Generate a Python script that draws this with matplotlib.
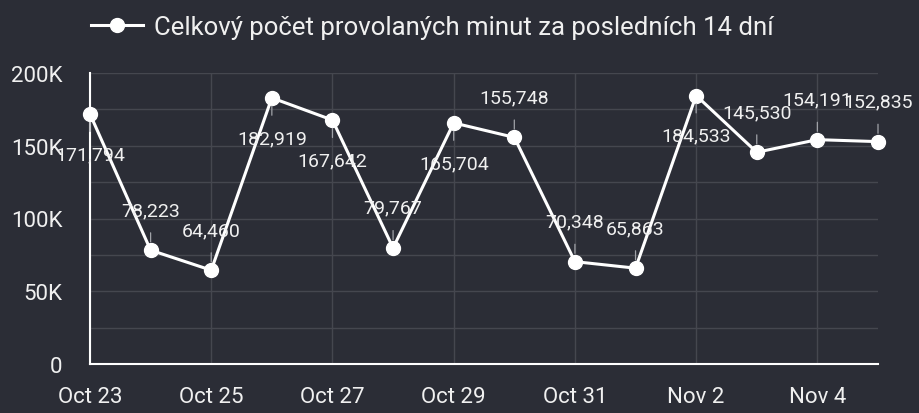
import datetime as dt

import matplotlib
matplotlib.use("Agg")
import matplotlib.dates as mdates
import matplotlib.pyplot as plt
from matplotlib import font_manager
from matplotlib.ticker import FuncFormatter, MultipleLocator

# data
dates = [dt.date(2023, 10, 23) + dt.timedelta(days=i) for i in range(14)]
minutes = [171794, 78223, 64460, 182919, 167642, 79767, 165704,
           155748, 70348, 65863, 184533, 145530, 154191, 152835]
label_side = ["below", "above", "above", "below", "below", "above", "below",
              "above", "above", "above", "below", "above", "above", "above"]
series_name = "Celkový počet provolaných minut za posledních 14 dní"
y_ticks = [0, 50000, 100000, 150000, 200000]

BG = "#2b2d36"
GRID = "#45474f"
FG = "#f0f0f0"

available = {f.name for f in font_manager.fontManager.ttflist}
family = "Liberation Sans Narrow" if "Liberation Sans Narrow" in available else "Roboto"
plt.rcParams["font.family"] = [family, "DejaVu Sans"]

fig = plt.figure(figsize=(9.2, 4.14), dpi=100, facecolor=BG)
ax = fig.add_axes([90 / 920, 1 - 365 / 414, 788 / 920, 291 / 414], facecolor=BG)

line, = ax.plot(dates, minutes, color="white", lw=2.2, marker="o", ms=10,
                markerfacecolor="white", markeredgecolor="white",
                clip_on=False, zorder=4, label=series_name)

for d, v, side in zip(dates, minutes, label_side):
    off = 29 if side == "above" else -29
    ax.annotate(f"{v:,}", xy=(d, v), xytext=(0, off), textcoords="offset points",
                ha="center", va="center", fontsize=14, color=FG, zorder=5,
                arrowprops=dict(arrowstyle="-", color="#a0a2a8", lw=0.9,
                                shrinkA=8, shrinkB=6))

ax.set_xlim(dates[0], dates[-1])
ax.set_ylim(0, 200000)
ax.set_yticks(y_ticks)
ax.yaxis.set_minor_locator(MultipleLocator(25000))
ax.yaxis.set_major_formatter(FuncFormatter(lambda v, _: "0" if v == 0 else f"{int(v / 1000)}K"))
ax.set_xticks(dates[::2])
ax.xaxis.set_major_formatter(FuncFormatter(
    lambda v, _: f"{mdates.num2date(v):%b} {mdates.num2date(v).day}"))

ax.grid(True, which="both", axis="y", color=GRID, lw=1)
ax.grid(True, which="major", axis="x", color=GRID, lw=1)
ax.set_axisbelow(True)

ax.tick_params(which="both", length=0, colors=FG, labelsize=16)
ax.tick_params(axis="y", pad=20)
ax.tick_params(axis="x", pad=16)
for side in ("top", "right"):
    ax.spines[side].set_visible(False)
for side in ("left", "bottom"):
    ax.spines[side].set_color("white")
    ax.spines[side].set_linewidth(1.5)

leg = fig.legend(handles=[line], loc="center left", bbox_to_anchor=(68 / 920, 1 - 28 / 414),
                 frameon=False, fontsize=18.5, handlelength=2.0, handletextpad=0.45,
                 labelcolor=FG)

fig.savefig("out.png", dpi=100, facecolor=BG)
